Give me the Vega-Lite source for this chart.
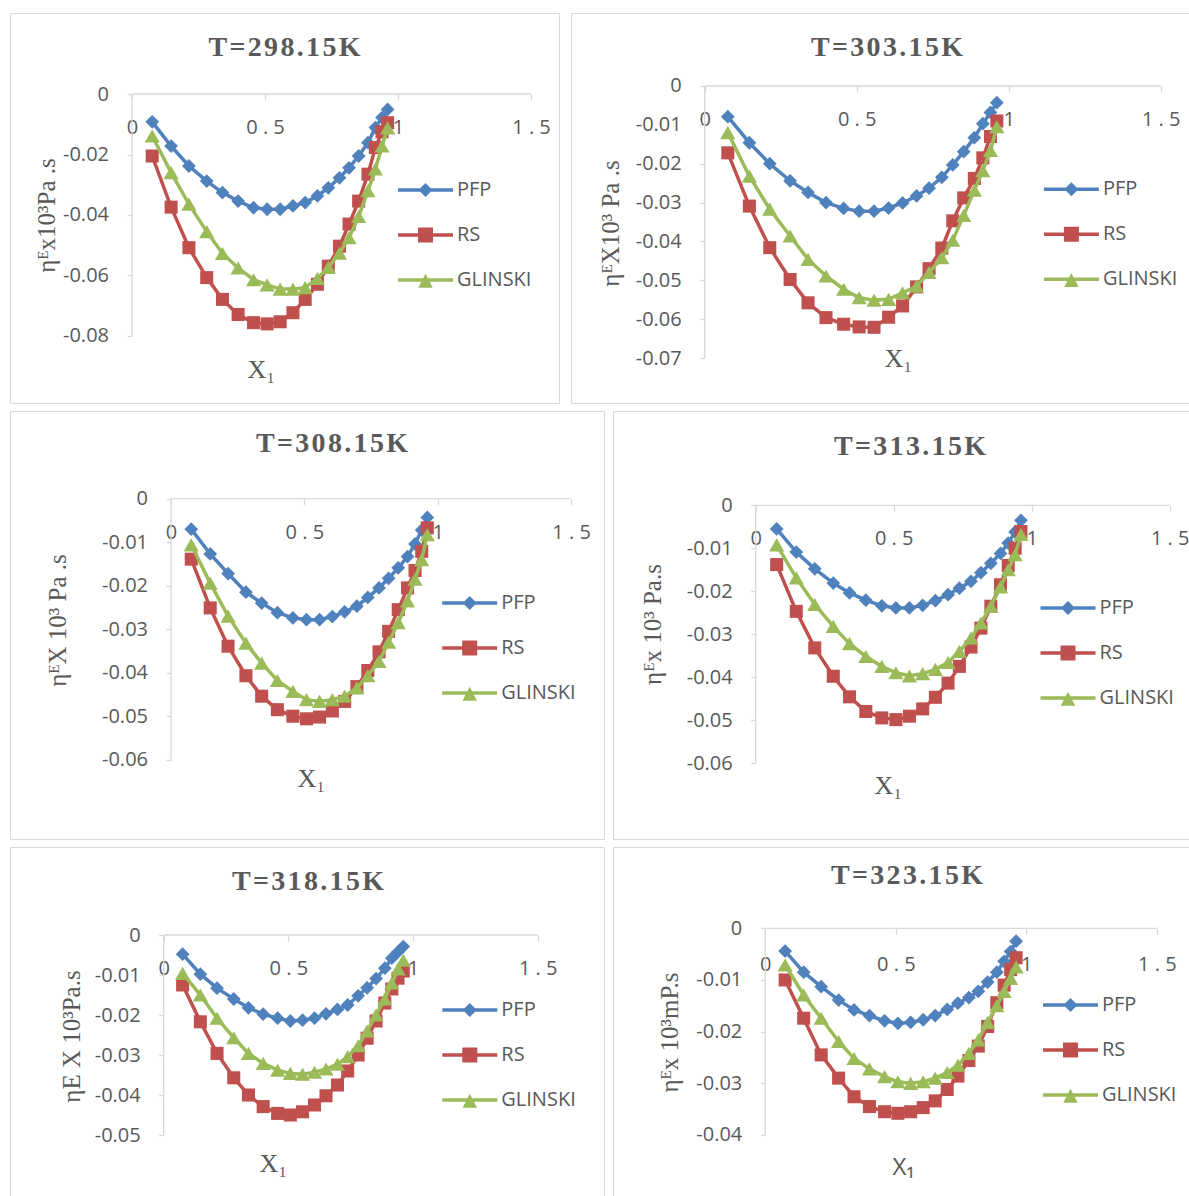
{
"$schema": "https://vega.github.io/schema/vega-lite/v6.json",
"padding": {"left": 9, "top": 12, "right": 0, "bottom": 0},
"background": "white",
"data": {"values": [
{"p":1,"s":"PFP","x":0.076,"y":-0.0092},{"p":1,"s":"PFP","x":0.147,"y":-0.0172},{"p":1,"s":"PFP","x":0.214,"y":-0.0238},{"p":1,"s":"PFP","x":0.281,"y":-0.0288},{"p":1,"s":"PFP","x":0.34,"y":-0.0326},{"p":1,"s":"PFP","x":0.399,"y":-0.0354},{"p":1,"s":"PFP","x":0.457,"y":-0.0376},{"p":1,"s":"PFP","x":0.508,"y":-0.0381},{"p":1,"s":"PFP","x":0.557,"y":-0.0381},{"p":1,"s":"PFP","x":0.605,"y":-0.037},{"p":1,"s":"PFP","x":0.651,"y":-0.0359},{"p":1,"s":"PFP","x":0.697,"y":-0.0337},{"p":1,"s":"PFP","x":0.738,"y":-0.031},{"p":1,"s":"PFP","x":0.78,"y":-0.0277},{"p":1,"s":"PFP","x":0.816,"y":-0.0244},{"p":1,"s":"PFP","x":0.852,"y":-0.0205},{"p":1,"s":"PFP","x":0.887,"y":-0.0161},{"p":1,"s":"PFP","x":0.915,"y":-0.0111},{"p":1,"s":"PFP","x":0.94,"y":-0.0078},{"p":1,"s":"PFP","x":0.961,"y":-0.0051},
{"p":1,"s":"RS","x":0.076,"y":-0.0205},{"p":1,"s":"RS","x":0.147,"y":-0.0374},{"p":1,"s":"RS","x":0.214,"y":-0.0508},{"p":1,"s":"RS","x":0.281,"y":-0.0607},{"p":1,"s":"RS","x":0.34,"y":-0.0679},{"p":1,"s":"RS","x":0.399,"y":-0.0729},{"p":1,"s":"RS","x":0.457,"y":-0.0756},{"p":1,"s":"RS","x":0.508,"y":-0.076},{"p":1,"s":"RS","x":0.557,"y":-0.0753},{"p":1,"s":"RS","x":0.605,"y":-0.0723},{"p":1,"s":"RS","x":0.651,"y":-0.0679},{"p":1,"s":"RS","x":0.697,"y":-0.0629},{"p":1,"s":"RS","x":0.738,"y":-0.0569},{"p":1,"s":"RS","x":0.78,"y":-0.0503},{"p":1,"s":"RS","x":0.816,"y":-0.043},{"p":1,"s":"RS","x":0.852,"y":-0.0354},{"p":1,"s":"RS","x":0.887,"y":-0.0265},{"p":1,"s":"RS","x":0.915,"y":-0.0177},{"p":1,"s":"RS","x":0.94,"y":-0.0125},{"p":1,"s":"RS","x":0.961,"y":-0.0095},
{"p":1,"s":"GLINSKI","x":0.076,"y":-0.0139},{"p":1,"s":"GLINSKI","x":0.147,"y":-0.026},{"p":1,"s":"GLINSKI","x":0.214,"y":-0.0364},{"p":1,"s":"GLINSKI","x":0.281,"y":-0.0455},{"p":1,"s":"GLINSKI","x":0.34,"y":-0.0527},{"p":1,"s":"GLINSKI","x":0.399,"y":-0.0575},{"p":1,"s":"GLINSKI","x":0.457,"y":-0.0614},{"p":1,"s":"GLINSKI","x":0.508,"y":-0.0631},{"p":1,"s":"GLINSKI","x":0.557,"y":-0.0645},{"p":1,"s":"GLINSKI","x":0.605,"y":-0.0645},{"p":1,"s":"GLINSKI","x":0.651,"y":-0.064},{"p":1,"s":"GLINSKI","x":0.697,"y":-0.061},{"p":1,"s":"GLINSKI","x":0.738,"y":-0.0573},{"p":1,"s":"GLINSKI","x":0.78,"y":-0.0526},{"p":1,"s":"GLINSKI","x":0.816,"y":-0.0475},{"p":1,"s":"GLINSKI","x":0.852,"y":-0.0405},{"p":1,"s":"GLINSKI","x":0.887,"y":-0.032},{"p":1,"s":"GLINSKI","x":0.915,"y":-0.0248},{"p":1,"s":"GLINSKI","x":0.94,"y":-0.0172},{"p":1,"s":"GLINSKI","x":0.961,"y":-0.0112},
{"p":2,"s":"PFP","x":0.076,"y":-0.0079},{"p":2,"s":"PFP","x":0.147,"y":-0.0146},{"p":2,"s":"PFP","x":0.214,"y":-0.02},{"p":2,"s":"PFP","x":0.281,"y":-0.0244},{"p":2,"s":"PFP","x":0.34,"y":-0.0274},{"p":2,"s":"PFP","x":0.399,"y":-0.03},{"p":2,"s":"PFP","x":0.457,"y":-0.0315},{"p":2,"s":"PFP","x":0.508,"y":-0.0322},{"p":2,"s":"PFP","x":0.557,"y":-0.0322},{"p":2,"s":"PFP","x":0.605,"y":-0.0314},{"p":2,"s":"PFP","x":0.651,"y":-0.0301},{"p":2,"s":"PFP","x":0.697,"y":-0.0283},{"p":2,"s":"PFP","x":0.738,"y":-0.0263},{"p":2,"s":"PFP","x":0.78,"y":-0.0235},{"p":2,"s":"PFP","x":0.816,"y":-0.0203},{"p":2,"s":"PFP","x":0.852,"y":-0.0169},{"p":2,"s":"PFP","x":0.887,"y":-0.0133},{"p":2,"s":"PFP","x":0.915,"y":-0.0097},{"p":2,"s":"PFP","x":0.94,"y":-0.0068},{"p":2,"s":"PFP","x":0.961,"y":-0.0043},
{"p":2,"s":"RS","x":0.076,"y":-0.0172},{"p":2,"s":"RS","x":0.147,"y":-0.0309},{"p":2,"s":"RS","x":0.214,"y":-0.0416},{"p":2,"s":"RS","x":0.281,"y":-0.0498},{"p":2,"s":"RS","x":0.34,"y":-0.0558},{"p":2,"s":"RS","x":0.399,"y":-0.0596},{"p":2,"s":"RS","x":0.457,"y":-0.0613},{"p":2,"s":"RS","x":0.508,"y":-0.062},{"p":2,"s":"RS","x":0.557,"y":-0.0621},{"p":2,"s":"RS","x":0.605,"y":-0.0595},{"p":2,"s":"RS","x":0.651,"y":-0.0566},{"p":2,"s":"RS","x":0.697,"y":-0.0517},{"p":2,"s":"RS","x":0.738,"y":-0.047},{"p":2,"s":"RS","x":0.78,"y":-0.0417},{"p":2,"s":"RS","x":0.816,"y":-0.0347},{"p":2,"s":"RS","x":0.852,"y":-0.0288},{"p":2,"s":"RS","x":0.887,"y":-0.0238},{"p":2,"s":"RS","x":0.915,"y":-0.0185},{"p":2,"s":"RS","x":0.94,"y":-0.013},{"p":2,"s":"RS","x":0.961,"y":-0.009},
{"p":2,"s":"GLINSKI","x":0.076,"y":-0.012},{"p":2,"s":"GLINSKI","x":0.147,"y":-0.0232},{"p":2,"s":"GLINSKI","x":0.214,"y":-0.0317},{"p":2,"s":"GLINSKI","x":0.281,"y":-0.0386},{"p":2,"s":"GLINSKI","x":0.34,"y":-0.0446},{"p":2,"s":"GLINSKI","x":0.399,"y":-0.0489},{"p":2,"s":"GLINSKI","x":0.457,"y":-0.0523},{"p":2,"s":"GLINSKI","x":0.508,"y":-0.0545},{"p":2,"s":"GLINSKI","x":0.557,"y":-0.0551},{"p":2,"s":"GLINSKI","x":0.605,"y":-0.0549},{"p":2,"s":"GLINSKI","x":0.651,"y":-0.0532},{"p":2,"s":"GLINSKI","x":0.697,"y":-0.0515},{"p":2,"s":"GLINSKI","x":0.738,"y":-0.048},{"p":2,"s":"GLINSKI","x":0.78,"y":-0.0442},{"p":2,"s":"GLINSKI","x":0.816,"y":-0.0397},{"p":2,"s":"GLINSKI","x":0.852,"y":-0.0333},{"p":2,"s":"GLINSKI","x":0.887,"y":-0.0268},{"p":2,"s":"GLINSKI","x":0.915,"y":-0.0218},{"p":2,"s":"GLINSKI","x":0.94,"y":-0.0166},{"p":2,"s":"GLINSKI","x":0.961,"y":-0.0105},
{"p":3,"s":"PFP","x":0.076,"y":-0.007},{"p":3,"s":"PFP","x":0.147,"y":-0.0127},{"p":3,"s":"PFP","x":0.214,"y":-0.0172},{"p":3,"s":"PFP","x":0.281,"y":-0.0215},{"p":3,"s":"PFP","x":0.34,"y":-0.024},{"p":3,"s":"PFP","x":0.399,"y":-0.0262},{"p":3,"s":"PFP","x":0.457,"y":-0.0274},{"p":3,"s":"PFP","x":0.508,"y":-0.0278},{"p":3,"s":"PFP","x":0.557,"y":-0.0278},{"p":3,"s":"PFP","x":0.605,"y":-0.0271},{"p":3,"s":"PFP","x":0.651,"y":-0.026},{"p":3,"s":"PFP","x":0.697,"y":-0.0247},{"p":3,"s":"PFP","x":0.738,"y":-0.0227},{"p":3,"s":"PFP","x":0.78,"y":-0.0205},{"p":3,"s":"PFP","x":0.816,"y":-0.0183},{"p":3,"s":"PFP","x":0.852,"y":-0.0159},{"p":3,"s":"PFP","x":0.887,"y":-0.0133},{"p":3,"s":"PFP","x":0.915,"y":-0.0104},{"p":3,"s":"PFP","x":0.94,"y":-0.0072},{"p":3,"s":"PFP","x":0.961,"y":-0.0043},
{"p":3,"s":"RS","x":0.076,"y":-0.0139},{"p":3,"s":"RS","x":0.147,"y":-0.0251},{"p":3,"s":"RS","x":0.214,"y":-0.0339},{"p":3,"s":"RS","x":0.281,"y":-0.0407},{"p":3,"s":"RS","x":0.34,"y":-0.0454},{"p":3,"s":"RS","x":0.399,"y":-0.0485},{"p":3,"s":"RS","x":0.457,"y":-0.05},{"p":3,"s":"RS","x":0.508,"y":-0.0506},{"p":3,"s":"RS","x":0.557,"y":-0.0502},{"p":3,"s":"RS","x":0.605,"y":-0.0488},{"p":3,"s":"RS","x":0.651,"y":-0.0466},{"p":3,"s":"RS","x":0.697,"y":-0.0432},{"p":3,"s":"RS","x":0.738,"y":-0.0395},{"p":3,"s":"RS","x":0.78,"y":-0.0352},{"p":3,"s":"RS","x":0.816,"y":-0.0305},{"p":3,"s":"RS","x":0.852,"y":-0.0255},{"p":3,"s":"RS","x":0.887,"y":-0.0205},{"p":3,"s":"RS","x":0.915,"y":-0.0165},{"p":3,"s":"RS","x":0.94,"y":-0.0121},{"p":3,"s":"RS","x":0.961,"y":-0.0067},
{"p":3,"s":"GLINSKI","x":0.076,"y":-0.0106},{"p":3,"s":"GLINSKI","x":0.147,"y":-0.0194},{"p":3,"s":"GLINSKI","x":0.214,"y":-0.027},{"p":3,"s":"GLINSKI","x":0.281,"y":-0.0332},{"p":3,"s":"GLINSKI","x":0.34,"y":-0.0378},{"p":3,"s":"GLINSKI","x":0.399,"y":-0.0418},{"p":3,"s":"GLINSKI","x":0.457,"y":-0.0443},{"p":3,"s":"GLINSKI","x":0.508,"y":-0.0462},{"p":3,"s":"GLINSKI","x":0.557,"y":-0.0466},{"p":3,"s":"GLINSKI","x":0.605,"y":-0.0462},{"p":3,"s":"GLINSKI","x":0.651,"y":-0.0454},{"p":3,"s":"GLINSKI","x":0.697,"y":-0.0435},{"p":3,"s":"GLINSKI","x":0.738,"y":-0.0407},{"p":3,"s":"GLINSKI","x":0.78,"y":-0.0374},{"p":3,"s":"GLINSKI","x":0.816,"y":-0.033},{"p":3,"s":"GLINSKI","x":0.852,"y":-0.0285},{"p":3,"s":"GLINSKI","x":0.887,"y":-0.0235},{"p":3,"s":"GLINSKI","x":0.915,"y":-0.0185},{"p":3,"s":"GLINSKI","x":0.94,"y":-0.014},{"p":3,"s":"GLINSKI","x":0.961,"y":-0.0083},
{"p":4,"s":"PFP","x":0.076,"y":-0.0055},{"p":4,"s":"PFP","x":0.147,"y":-0.0109},{"p":4,"s":"PFP","x":0.214,"y":-0.0148},{"p":4,"s":"PFP","x":0.281,"y":-0.0181},{"p":4,"s":"PFP","x":0.34,"y":-0.0204},{"p":4,"s":"PFP","x":0.399,"y":-0.0221},{"p":4,"s":"PFP","x":0.457,"y":-0.0234},{"p":4,"s":"PFP","x":0.508,"y":-0.0239},{"p":4,"s":"PFP","x":0.557,"y":-0.0239},{"p":4,"s":"PFP","x":0.605,"y":-0.0233},{"p":4,"s":"PFP","x":0.651,"y":-0.0222},{"p":4,"s":"PFP","x":0.697,"y":-0.0208},{"p":4,"s":"PFP","x":0.738,"y":-0.0193},{"p":4,"s":"PFP","x":0.78,"y":-0.0177},{"p":4,"s":"PFP","x":0.816,"y":-0.0157},{"p":4,"s":"PFP","x":0.852,"y":-0.0135},{"p":4,"s":"PFP","x":0.887,"y":-0.0112},{"p":4,"s":"PFP","x":0.915,"y":-0.0088},{"p":4,"s":"PFP","x":0.94,"y":-0.0062},{"p":4,"s":"PFP","x":0.961,"y":-0.0035},
{"p":4,"s":"RS","x":0.076,"y":-0.0138},{"p":4,"s":"RS","x":0.147,"y":-0.0247},{"p":4,"s":"RS","x":0.214,"y":-0.0332},{"p":4,"s":"RS","x":0.281,"y":-0.0398},{"p":4,"s":"RS","x":0.34,"y":-0.0446},{"p":4,"s":"RS","x":0.399,"y":-0.048},{"p":4,"s":"RS","x":0.457,"y":-0.0495},{"p":4,"s":"RS","x":0.508,"y":-0.0499},{"p":4,"s":"RS","x":0.557,"y":-0.0491},{"p":4,"s":"RS","x":0.605,"y":-0.0474},{"p":4,"s":"RS","x":0.651,"y":-0.0447},{"p":4,"s":"RS","x":0.697,"y":-0.0414},{"p":4,"s":"RS","x":0.738,"y":-0.0375},{"p":4,"s":"RS","x":0.78,"y":-0.033},{"p":4,"s":"RS","x":0.816,"y":-0.0286},{"p":4,"s":"RS","x":0.852,"y":-0.0235},{"p":4,"s":"RS","x":0.887,"y":-0.0185},{"p":4,"s":"RS","x":0.915,"y":-0.014},{"p":4,"s":"RS","x":0.94,"y":-0.01},{"p":4,"s":"RS","x":0.961,"y":-0.0061},
{"p":4,"s":"GLINSKI","x":0.076,"y":-0.0092},{"p":4,"s":"GLINSKI","x":0.147,"y":-0.0169},{"p":4,"s":"GLINSKI","x":0.214,"y":-0.0231},{"p":4,"s":"GLINSKI","x":0.281,"y":-0.0282},{"p":4,"s":"GLINSKI","x":0.34,"y":-0.0322},{"p":4,"s":"GLINSKI","x":0.399,"y":-0.0352},{"p":4,"s":"GLINSKI","x":0.457,"y":-0.0375},{"p":4,"s":"GLINSKI","x":0.508,"y":-0.039},{"p":4,"s":"GLINSKI","x":0.557,"y":-0.0397},{"p":4,"s":"GLINSKI","x":0.605,"y":-0.0392},{"p":4,"s":"GLINSKI","x":0.651,"y":-0.0382},{"p":4,"s":"GLINSKI","x":0.697,"y":-0.0366},{"p":4,"s":"GLINSKI","x":0.738,"y":-0.034},{"p":4,"s":"GLINSKI","x":0.78,"y":-0.0309},{"p":4,"s":"GLINSKI","x":0.816,"y":-0.0274},{"p":4,"s":"GLINSKI","x":0.852,"y":-0.0235},{"p":4,"s":"GLINSKI","x":0.887,"y":-0.019},{"p":4,"s":"GLINSKI","x":0.915,"y":-0.015},{"p":4,"s":"GLINSKI","x":0.94,"y":-0.0115},{"p":4,"s":"GLINSKI","x":0.961,"y":-0.0068},
{"p":5,"s":"PFP","x":0.076,"y":-0.0048},{"p":5,"s":"PFP","x":0.147,"y":-0.0098},{"p":5,"s":"PFP","x":0.214,"y":-0.0133},{"p":5,"s":"PFP","x":0.281,"y":-0.016},{"p":5,"s":"PFP","x":0.34,"y":-0.0182},{"p":5,"s":"PFP","x":0.399,"y":-0.0198},{"p":5,"s":"PFP","x":0.457,"y":-0.0208},{"p":5,"s":"PFP","x":0.508,"y":-0.0215},{"p":5,"s":"PFP","x":0.557,"y":-0.0213},{"p":5,"s":"PFP","x":0.605,"y":-0.0208},{"p":5,"s":"PFP","x":0.651,"y":-0.0197},{"p":5,"s":"PFP","x":0.697,"y":-0.0186},{"p":5,"s":"PFP","x":0.738,"y":-0.0175},{"p":5,"s":"PFP","x":0.78,"y":-0.0152},{"p":5,"s":"PFP","x":0.816,"y":-0.0132},{"p":5,"s":"PFP","x":0.852,"y":-0.0109},{"p":5,"s":"PFP","x":0.887,"y":-0.0083},{"p":5,"s":"PFP","x":0.915,"y":-0.0058},{"p":5,"s":"PFP","x":0.94,"y":-0.0042},{"p":5,"s":"PFP","x":0.961,"y":-0.0029},
{"p":5,"s":"RS","x":0.076,"y":-0.0125},{"p":5,"s":"RS","x":0.147,"y":-0.0217},{"p":5,"s":"RS","x":0.214,"y":-0.0296},{"p":5,"s":"RS","x":0.281,"y":-0.0357},{"p":5,"s":"RS","x":0.34,"y":-0.04},{"p":5,"s":"RS","x":0.399,"y":-0.0429},{"p":5,"s":"RS","x":0.457,"y":-0.0446},{"p":5,"s":"RS","x":0.508,"y":-0.045},{"p":5,"s":"RS","x":0.557,"y":-0.0442},{"p":5,"s":"RS","x":0.605,"y":-0.0425},{"p":5,"s":"RS","x":0.651,"y":-0.0402},{"p":5,"s":"RS","x":0.697,"y":-0.0375},{"p":5,"s":"RS","x":0.738,"y":-0.034},{"p":5,"s":"RS","x":0.78,"y":-0.03},{"p":5,"s":"RS","x":0.816,"y":-0.0258},{"p":5,"s":"RS","x":0.852,"y":-0.0215},{"p":5,"s":"RS","x":0.887,"y":-0.017},{"p":5,"s":"RS","x":0.915,"y":-0.0135},{"p":5,"s":"RS","x":0.94,"y":-0.0108},{"p":5,"s":"RS","x":0.961,"y":-0.009},
{"p":5,"s":"GLINSKI","x":0.076,"y":-0.0096},{"p":5,"s":"GLINSKI","x":0.147,"y":-0.015},{"p":5,"s":"GLINSKI","x":0.214,"y":-0.0208},{"p":5,"s":"GLINSKI","x":0.281,"y":-0.0257},{"p":5,"s":"GLINSKI","x":0.34,"y":-0.0296},{"p":5,"s":"GLINSKI","x":0.399,"y":-0.0321},{"p":5,"s":"GLINSKI","x":0.457,"y":-0.0338},{"p":5,"s":"GLINSKI","x":0.508,"y":-0.0346},{"p":5,"s":"GLINSKI","x":0.557,"y":-0.0348},{"p":5,"s":"GLINSKI","x":0.605,"y":-0.0343},{"p":5,"s":"GLINSKI","x":0.651,"y":-0.0335},{"p":5,"s":"GLINSKI","x":0.697,"y":-0.0323},{"p":5,"s":"GLINSKI","x":0.738,"y":-0.0304},{"p":5,"s":"GLINSKI","x":0.78,"y":-0.0277},{"p":5,"s":"GLINSKI","x":0.816,"y":-0.024},{"p":5,"s":"GLINSKI","x":0.852,"y":-0.02},{"p":5,"s":"GLINSKI","x":0.887,"y":-0.016},{"p":5,"s":"GLINSKI","x":0.915,"y":-0.012},{"p":5,"s":"GLINSKI","x":0.94,"y":-0.0085},{"p":5,"s":"GLINSKI","x":0.961,"y":-0.0063},
{"p":6,"s":"PFP","x":0.076,"y":-0.0044},{"p":6,"s":"PFP","x":0.147,"y":-0.0085},{"p":6,"s":"PFP","x":0.214,"y":-0.0113},{"p":6,"s":"PFP","x":0.281,"y":-0.0139},{"p":6,"s":"PFP","x":0.34,"y":-0.0158},{"p":6,"s":"PFP","x":0.399,"y":-0.0169},{"p":6,"s":"PFP","x":0.457,"y":-0.0179},{"p":6,"s":"PFP","x":0.508,"y":-0.0184},{"p":6,"s":"PFP","x":0.557,"y":-0.0182},{"p":6,"s":"PFP","x":0.605,"y":-0.0177},{"p":6,"s":"PFP","x":0.651,"y":-0.0169},{"p":6,"s":"PFP","x":0.697,"y":-0.0157},{"p":6,"s":"PFP","x":0.738,"y":-0.0145},{"p":6,"s":"PFP","x":0.78,"y":-0.0134},{"p":6,"s":"PFP","x":0.816,"y":-0.0122},{"p":6,"s":"PFP","x":0.852,"y":-0.0104},{"p":6,"s":"PFP","x":0.887,"y":-0.0085},{"p":6,"s":"PFP","x":0.915,"y":-0.0064},{"p":6,"s":"PFP","x":0.94,"y":-0.0045},{"p":6,"s":"PFP","x":0.961,"y":-0.0025},
{"p":6,"s":"RS","x":0.076,"y":-0.01},{"p":6,"s":"RS","x":0.147,"y":-0.0174},{"p":6,"s":"RS","x":0.214,"y":-0.0245},{"p":6,"s":"RS","x":0.281,"y":-0.029},{"p":6,"s":"RS","x":0.34,"y":-0.0326},{"p":6,"s":"RS","x":0.399,"y":-0.0345},{"p":6,"s":"RS","x":0.457,"y":-0.0355},{"p":6,"s":"RS","x":0.508,"y":-0.0358},{"p":6,"s":"RS","x":0.557,"y":-0.0355},{"p":6,"s":"RS","x":0.605,"y":-0.0347},{"p":6,"s":"RS","x":0.651,"y":-0.0334},{"p":6,"s":"RS","x":0.697,"y":-0.0312},{"p":6,"s":"RS","x":0.738,"y":-0.0286},{"p":6,"s":"RS","x":0.78,"y":-0.0256},{"p":6,"s":"RS","x":0.816,"y":-0.0228},{"p":6,"s":"RS","x":0.852,"y":-0.019},{"p":6,"s":"RS","x":0.887,"y":-0.0144},{"p":6,"s":"RS","x":0.915,"y":-0.011},{"p":6,"s":"RS","x":0.94,"y":-0.008},{"p":6,"s":"RS","x":0.961,"y":-0.0057},
{"p":6,"s":"GLINSKI","x":0.076,"y":-0.0071},{"p":6,"s":"GLINSKI","x":0.147,"y":-0.0129},{"p":6,"s":"GLINSKI","x":0.214,"y":-0.0174},{"p":6,"s":"GLINSKI","x":0.281,"y":-0.0219},{"p":6,"s":"GLINSKI","x":0.34,"y":-0.0252},{"p":6,"s":"GLINSKI","x":0.399,"y":-0.0272},{"p":6,"s":"GLINSKI","x":0.457,"y":-0.0287},{"p":6,"s":"GLINSKI","x":0.508,"y":-0.0297},{"p":6,"s":"GLINSKI","x":0.557,"y":-0.03},{"p":6,"s":"GLINSKI","x":0.605,"y":-0.0297},{"p":6,"s":"GLINSKI","x":0.651,"y":-0.029},{"p":6,"s":"GLINSKI","x":0.697,"y":-0.0279},{"p":6,"s":"GLINSKI","x":0.738,"y":-0.0265},{"p":6,"s":"GLINSKI","x":0.78,"y":-0.0242},{"p":6,"s":"GLINSKI","x":0.816,"y":-0.0216},{"p":6,"s":"GLINSKI","x":0.852,"y":-0.0182},{"p":6,"s":"GLINSKI","x":0.887,"y":-0.015},{"p":6,"s":"GLINSKI","x":0.915,"y":-0.0122},{"p":6,"s":"GLINSKI","x":0.94,"y":-0.0097},{"p":6,"s":"GLINSKI","x":0.961,"y":-0.0075}
]},
"config": {
  "view": {"stroke": "#d9d9d9", "strokeWidth": 1},
  "axis": {"labelFont": "Open Sans", "labelFontSize": 20, "labelColor": "#595959", "tickColor": "#d9d9d9", "tickWidth": 1.3, "domain": false, "grid": false, "labelFlush": false, "labelOverlap": false, "labelBound": false, "titleFont": "Liberation Serif", "titleFontWeight": "normal", "titleFontSize": 25, "titleColor": "#595959", "titleAlign": "center", "titleBaseline": "middle"},
  "axisX": {"tickSize": 6, "labelPadding": 17.5, "labelBaseline": "top", "titleFontSize": 26, "titleAngle": 0},
  "axisY": {"tickSize": 5, "labelPadding": 18.5, "titleAngle": -90},
  "legend": {"orient": "none", "symbolSize": 900, "symbolStrokeWidth": 0, "labelOffset": 16.5, "rowPadding": 20, "padding": 0, "labelFont": "Open Sans", "labelFontSize": 20, "labelColor": "#595959", "symbolOpacity": 1},
  "title": {"font": "Liberation Serif", "fontSize": 28, "fontWeight": "bold", "color": "#595959", "anchor": "middle", "frame": "group"},
  "line": {"strokeWidth": 3.5},
  "point": {"filled": true, "opacity": 1, "strokeWidth": 0}
},
"spacing": 6,
"resolve": {"scale": {"color": "independent", "shape": "independent", "x": "independent", "y": "independent"}, "legend": {"color": "independent", "shape": "independent"}},
"vconcat": [
{"hconcat": [
 {"width": 549, "height": 390,
  "title": {"text": "T\u200a=\u200a2\u200a9\u200a8\u200a.\u200a1\u200a5\u200aK", "offset": -49, "dx": 0},
  "layer": [
   {"data": {"values": [{}]}, "mark": {"type": "rule", "color": "#d9d9d9", "strokeWidth": 1.3}, "encoding": {"x": {"datum": 0, "type": "quantitative"}, "y": {"datum": 0, "type": "quantitative"}, "y2": {"datum": -0.08}}},
   {"data": {"values": [{}]}, "mark": {"type": "rule", "color": "#d9d9d9", "strokeWidth": 1.3}, "encoding": {"x": {"datum": 0, "type": "quantitative"}, "x2": {"datum": 1.5}, "y": {"datum": 0, "type": "quantitative"}}},
   {"transform": [{"filter": "datum.p == 1 && datum.s == 'PFP'"}], "mark": {"type": "line", "color": "#4F81BD"},
    "encoding": {
     "x": {"field": "x", "type": "quantitative", "scale": {"domain": [-0.45865, 1.60526], "nice": false, "zero": false}, "axis": {"orient": "bottom", "offset": -309, "values": [0, 0.5, 1, 1.5], "labelExpr": "datum.value == 0 ? '0' : datum.value == 1 ? '1' : datum.value == 0.5 ? '0 . 5' : '1 . 5'", "title": "X₁", "titleX": 251, "titleY": 275}},
     "y": {"field": "y", "type": "quantitative", "scale": {"domain": [-0.102149, 0.026777], "nice": false, "zero": false}, "axis": {"orient": "left", "offset": -122, "values": [0, -0.02, -0.04, -0.06, -0.08], "labelExpr": "datum.value == 0 ? '0' : '-0.0' + round(-datum.value * 100)", "title": "ηᴱx10³Pa .s", "titleX": -86, "titleY": 202}}}},
   {"transform": [{"filter": "datum.p == 1 && datum.s == 'PFP'"}], "mark": {"type": "point", "shape": "diamond", "color": "#4F81BD", "size": 190}, "encoding": {"x": {"field": "x", "type": "quantitative"}, "y": {"field": "y", "type": "quantitative"}}},
   {"transform": [{"filter": "datum.p == 1 && datum.s == 'RS'"}], "mark": {"type": "line", "color": "#C0504D"}, "encoding": {"x": {"field": "x", "type": "quantitative"}, "y": {"field": "y", "type": "quantitative"}}},
   {"transform": [{"filter": "datum.p == 1 && datum.s == 'RS'"}], "mark": {"type": "point", "shape": "square", "color": "#C0504D", "size": 170}, "encoding": {"x": {"field": "x", "type": "quantitative"}, "y": {"field": "y", "type": "quantitative"}}},
   {"transform": [{"filter": "datum.p == 1 && datum.s == 'GLINSKI'"}], "mark": {"type": "line", "color": "#9BBB59"}, "encoding": {"x": {"field": "x", "type": "quantitative"}, "y": {"field": "y", "type": "quantitative"}}},
   {"transform": [{"filter": "datum.p == 1 && datum.s == 'GLINSKI'"}], "mark": {"type": "point", "shape": "triangle-up", "color": "#9BBB59", "size": 230}, "encoding": {"x": {"field": "x", "type": "quantitative"}, "y": {"field": "y", "type": "quantitative"}}},
   {"transform": [{"filter": "datum.p == 1"}], "mark": {"type": "point", "opacity": 0, "size": 900},
    "encoding": {
     "x": {"field": "x", "type": "quantitative"}, "y": {"field": "y", "type": "quantitative"},
     "color": {"field": "s", "type": "nominal", "scale": {"domain": ["PFP", "RS", "GLINSKI"], "range": ["#4F81BD", "#C0504D", "#9BBB59"]}, "legend": {"title": null, "legendX": 400.5, "legendY": 162}},
     "shape": {"field": "s", "type": "nominal", "scale": {"domain": ["PFP", "RS", "GLINSKI"], "range": ["M-1.833,-0.12H1.833V0.12H-1.833Z M0,-0.47L0.47,0L0,0.47L-0.47,0Z", "M-1.833,-0.12H1.833V0.12H-1.833Z M-0.5,-0.5H0.5V0.5H-0.5Z", "M-1.833,-0.12H1.833V0.12H-1.833Z M0,-0.42L0.48,0.52H-0.48Z"]}, "legend": {"title": null, "legendX": 400.5, "legendY": 162}}}}
  ]},
 {"width": 620, "height": 390,
  "title": {"text": "T\u200a=\u200a3\u200a0\u200a3\u200a.\u200a1\u200a5\u200aK", "offset": -49, "dx": 6},
  "layer": [
   {"data": {"values": [{}]}, "mark": {"type": "rule", "color": "#d9d9d9", "strokeWidth": 1.3}, "encoding": {"x": {"datum": 0, "type": "quantitative"}, "y": {"datum": 0, "type": "quantitative"}, "y2": {"datum": -0.07}}},
   {"data": {"values": [{}]}, "mark": {"type": "rule", "color": "#d9d9d9", "strokeWidth": 1.3}, "encoding": {"x": {"datum": 0, "type": "quantitative"}, "x2": {"datum": 1.5}, "y": {"datum": 0, "type": "quantitative"}}},
   {"transform": [{"filter": "datum.p == 2 && datum.s == 'PFP'"}], "mark": {"type": "line", "color": "#4F81BD"},
    "encoding": {
     "x": {"field": "x", "type": "quantitative", "scale": {"domain": [-0.4398, 1.59967], "nice": false, "zero": false}, "axis": {"orient": "bottom", "offset": -317, "values": [0, 0.5, 1, 1.5], "labelExpr": "datum.value == 0 ? '0' : datum.value == 1 ? '1' : datum.value == 0.5 ? '0 . 5' : '1 . 5'", "title": "X₁", "titleX": 327, "titleY": 272}},
     "y": {"field": "y", "type": "quantitative", "scale": {"domain": [-0.081575, 0.018785], "nice": false, "zero": false}, "axis": {"orient": "left", "offset": -133.7, "values": [0, -0.01, -0.02, -0.03, -0.04, -0.05, -0.06, -0.07], "labelExpr": "datum.value == 0 ? '0' : '-0.0' + round(-datum.value * 100)", "title": "ηᴱX10³ Pa .s", "titleX": -94.7, "titleY": 210}}}},
   {"transform": [{"filter": "datum.p == 2 && datum.s == 'PFP'"}], "mark": {"type": "point", "shape": "diamond", "color": "#4F81BD", "size": 190}, "encoding": {"x": {"field": "x", "type": "quantitative"}, "y": {"field": "y", "type": "quantitative"}}},
   {"transform": [{"filter": "datum.p == 2 && datum.s == 'RS'"}], "mark": {"type": "line", "color": "#C0504D"}, "encoding": {"x": {"field": "x", "type": "quantitative"}, "y": {"field": "y", "type": "quantitative"}}},
   {"transform": [{"filter": "datum.p == 2 && datum.s == 'RS'"}], "mark": {"type": "point", "shape": "square", "color": "#C0504D", "size": 170}, "encoding": {"x": {"field": "x", "type": "quantitative"}, "y": {"field": "y", "type": "quantitative"}}},
   {"transform": [{"filter": "datum.p == 2 && datum.s == 'GLINSKI'"}], "mark": {"type": "line", "color": "#9BBB59"}, "encoding": {"x": {"field": "x", "type": "quantitative"}, "y": {"field": "y", "type": "quantitative"}}},
   {"transform": [{"filter": "datum.p == 2 && datum.s == 'GLINSKI'"}], "mark": {"type": "point", "shape": "triangle-up", "color": "#9BBB59", "size": 230}, "encoding": {"x": {"field": "x", "type": "quantitative"}, "y": {"field": "y", "type": "quantitative"}}},
   {"transform": [{"filter": "datum.p == 2"}], "mark": {"type": "point", "opacity": 0, "size": 900},
    "encoding": {
     "x": {"field": "x", "type": "quantitative"}, "y": {"field": "y", "type": "quantitative"},
     "color": {"field": "s", "type": "nominal", "scale": {"domain": ["PFP", "RS", "GLINSKI"], "range": ["#4F81BD", "#C0504D", "#9BBB59"]}, "legend": {"title": null, "legendX": 485.4, "legendY": 161.3}},
     "shape": {"field": "s", "type": "nominal", "scale": {"domain": ["PFP", "RS", "GLINSKI"], "range": ["M-1.833,-0.12H1.833V0.12H-1.833Z M0,-0.47L0.47,0L0,0.47L-0.47,0Z", "M-1.833,-0.12H1.833V0.12H-1.833Z M-0.5,-0.5H0.5V0.5H-0.5Z", "M-1.833,-0.12H1.833V0.12H-1.833Z M0,-0.42L0.48,0.52H-0.48Z"]}, "legend": {"title": null, "legendX": 485.4, "legendY": 161.3}}}}
  ]}
 ], "spacing": 10,
 "resolve": {"scale": {"color": "independent", "shape": "independent", "x": "independent", "y": "independent"}, "legend": {"color": "independent", "shape": "independent"}}},
{"hconcat": [
 {"width": 594, "height": 428,
  "title": {"text": "T\u200a=\u200a3\u200a0\u200a8\u200a.\u200a1\u200a5\u200aK", "offset": -47, "dx": 25},
  "layer": [
   {"data": {"values": [{}]}, "mark": {"type": "rule", "color": "#d9d9d9", "strokeWidth": 1.3}, "encoding": {"x": {"datum": 0, "type": "quantitative"}, "y": {"datum": 0, "type": "quantitative"}, "y2": {"datum": -0.06}}},
   {"data": {"values": [{}]}, "mark": {"type": "rule", "color": "#d9d9d9", "strokeWidth": 1.3}, "encoding": {"x": {"datum": 0, "type": "quantitative"}, "x2": {"datum": 1.5}, "y": {"datum": 0, "type": "quantitative"}}},
   {"transform": [{"filter": "datum.p == 3 && datum.s == 'PFP'"}], "mark": {"type": "line", "color": "#4F81BD"},
    "encoding": {
     "x": {"field": "x", "type": "quantitative", "scale": {"domain": [-0.60367, 1.62355], "nice": false, "zero": false}, "axis": {"orient": "bottom", "offset": -340.3, "values": [0, 0.5, 1, 1.5], "labelExpr": "datum.value == 0 ? '0' : datum.value == 1 ? '1' : datum.value == 0.5 ? '0 . 5' : '1 . 5'", "title": "X₁", "titleX": 301, "titleY": 279.3}},
     "y": {"field": "y", "type": "quantitative", "scale": {"domain": [-0.07823, 0.020161], "nice": false, "zero": false}, "axis": {"orient": "left", "offset": -161, "values": [0, -0.01, -0.02, -0.03, -0.04, -0.05, -0.06], "labelExpr": "datum.value == 0 ? '0' : '-0.0' + round(-datum.value * 100)", "title": "ηᴱX 10³ Pa .s", "titleX": -114, "titleY": 209}}}},
   {"transform": [{"filter": "datum.p == 3 && datum.s == 'PFP'"}], "mark": {"type": "point", "shape": "diamond", "color": "#4F81BD", "size": 190}, "encoding": {"x": {"field": "x", "type": "quantitative"}, "y": {"field": "y", "type": "quantitative"}}},
   {"transform": [{"filter": "datum.p == 3 && datum.s == 'RS'"}], "mark": {"type": "line", "color": "#C0504D"}, "encoding": {"x": {"field": "x", "type": "quantitative"}, "y": {"field": "y", "type": "quantitative"}}},
   {"transform": [{"filter": "datum.p == 3 && datum.s == 'RS'"}], "mark": {"type": "point", "shape": "square", "color": "#C0504D", "size": 170}, "encoding": {"x": {"field": "x", "type": "quantitative"}, "y": {"field": "y", "type": "quantitative"}}},
   {"transform": [{"filter": "datum.p == 3 && datum.s == 'GLINSKI'"}], "mark": {"type": "line", "color": "#9BBB59"}, "encoding": {"x": {"field": "x", "type": "quantitative"}, "y": {"field": "y", "type": "quantitative"}}},
   {"transform": [{"filter": "datum.p == 3 && datum.s == 'GLINSKI'"}], "mark": {"type": "point", "shape": "triangle-up", "color": "#9BBB59", "size": 230}, "encoding": {"x": {"field": "x", "type": "quantitative"}, "y": {"field": "y", "type": "quantitative"}}},
   {"transform": [{"filter": "datum.p == 3"}], "mark": {"type": "point", "opacity": 0, "size": 900},
    "encoding": {
     "x": {"field": "x", "type": "quantitative"}, "y": {"field": "y", "type": "quantitative"},
     "color": {"field": "s", "type": "nominal", "scale": {"domain": ["PFP", "RS", "GLINSKI"], "range": ["#4F81BD", "#C0504D", "#9BBB59"]}, "legend": {"title": null, "legendX": 444.7, "legendY": 177}},
     "shape": {"field": "s", "type": "nominal", "scale": {"domain": ["PFP", "RS", "GLINSKI"], "range": ["M-1.833,-0.12H1.833V0.12H-1.833Z M0,-0.47L0.47,0L0,0.47L-0.47,0Z", "M-1.833,-0.12H1.833V0.12H-1.833Z M-0.5,-0.5H0.5V0.5H-0.5Z", "M-1.833,-0.12H1.833V0.12H-1.833Z M0,-0.42L0.48,0.52H-0.48Z"]}, "legend": {"title": null, "legendX": 444.7, "legendY": 177}}}}
  ]},
 {"width": 578, "height": 428,
  "title": {"text": "T\u200a=\u200a3\u200a1\u200a3\u200a.\u200a1\u200a5\u200aK", "offset": -50, "dx": 8},
  "layer": [
   {"data": {"values": [{}]}, "mark": {"type": "rule", "color": "#d9d9d9", "strokeWidth": 1.3}, "encoding": {"x": {"datum": 0, "type": "quantitative"}, "y": {"datum": 0, "type": "quantitative"}, "y2": {"datum": -0.06}}},
   {"data": {"values": [{}]}, "mark": {"type": "rule", "color": "#d9d9d9", "strokeWidth": 1.3}, "encoding": {"x": {"datum": 0, "type": "quantitative"}, "x2": {"datum": 1.5}, "y": {"datum": 0, "type": "quantitative"}}},
   {"transform": [{"filter": "datum.p == 4 && datum.s == 'PFP'"}], "mark": {"type": "line", "color": "#4F81BD"},
    "encoding": {
     "x": {"field": "x", "type": "quantitative", "scale": {"domain": [-0.51703, 1.57717], "nice": false, "zero": false}, "axis": {"orient": "bottom", "offset": -333.7, "values": [0, 0.5, 1, 1.5], "labelExpr": "datum.value == 0 ? '0' : datum.value == 1 ? '1' : datum.value == 0.5 ? '0 . 5' : '1 . 5'", "title": "X₁", "titleX": 275, "titleY": 279.7}},
     "y": {"field": "y", "type": "quantitative", "scale": {"domain": [-0.077695, 0.021956], "nice": false, "zero": false}, "axis": {"orient": "left", "offset": -142.7, "values": [0, -0.01, -0.02, -0.03, -0.04, -0.05, -0.06], "labelExpr": "datum.value == 0 ? '0' : '-0.0' + round(-datum.value * 100)", "title": "ηᴱx 10³ Pa.s", "titleX": -103.7, "titleY": 213}}}},
   {"transform": [{"filter": "datum.p == 4 && datum.s == 'PFP'"}], "mark": {"type": "point", "shape": "diamond", "color": "#4F81BD", "size": 190}, "encoding": {"x": {"field": "x", "type": "quantitative"}, "y": {"field": "y", "type": "quantitative"}}},
   {"transform": [{"filter": "datum.p == 4 && datum.s == 'RS'"}], "mark": {"type": "line", "color": "#C0504D"}, "encoding": {"x": {"field": "x", "type": "quantitative"}, "y": {"field": "y", "type": "quantitative"}}},
   {"transform": [{"filter": "datum.p == 4 && datum.s == 'RS'"}], "mark": {"type": "point", "shape": "square", "color": "#C0504D", "size": 170}, "encoding": {"x": {"field": "x", "type": "quantitative"}, "y": {"field": "y", "type": "quantitative"}}},
   {"transform": [{"filter": "datum.p == 4 && datum.s == 'GLINSKI'"}], "mark": {"type": "line", "color": "#9BBB59"}, "encoding": {"x": {"field": "x", "type": "quantitative"}, "y": {"field": "y", "type": "quantitative"}}},
   {"transform": [{"filter": "datum.p == 4 && datum.s == 'GLINSKI'"}], "mark": {"type": "point", "shape": "triangle-up", "color": "#9BBB59", "size": 230}, "encoding": {"x": {"field": "x", "type": "quantitative"}, "y": {"field": "y", "type": "quantitative"}}},
   {"transform": [{"filter": "datum.p == 4"}], "mark": {"type": "point", "opacity": 0, "size": 900},
    "encoding": {
     "x": {"field": "x", "type": "quantitative"}, "y": {"field": "y", "type": "quantitative"},
     "color": {"field": "s", "type": "nominal", "scale": {"domain": ["PFP", "RS", "GLINSKI"], "range": ["#4F81BD", "#C0504D", "#9BBB59"]}, "legend": {"title": null, "legendX": 440, "legendY": 182}},
     "shape": {"field": "s", "type": "nominal", "scale": {"domain": ["PFP", "RS", "GLINSKI"], "range": ["M-1.833,-0.12H1.833V0.12H-1.833Z M0,-0.47L0.47,0L0,0.47L-0.47,0Z", "M-1.833,-0.12H1.833V0.12H-1.833Z M-0.5,-0.5H0.5V0.5H-0.5Z", "M-1.833,-0.12H1.833V0.12H-1.833Z M0,-0.42L0.48,0.52H-0.48Z"]}, "legend": {"title": null, "legendX": 440, "legendY": 182}}}}
  ]}
 ], "spacing": 7,
 "resolve": {"scale": {"color": "independent", "shape": "independent", "x": "independent", "y": "independent"}, "legend": {"color": "independent", "shape": "independent"}}},
{"hconcat": [
 {"width": 594, "height": 353,
  "title": {"text": "T\u200a=\u200a3\u200a1\u200a8\u200a.\u200a1\u200a5\u200aK", "offset": -49, "dx": 1},
  "layer": [
   {"data": {"values": [{}]}, "mark": {"type": "rule", "color": "#d9d9d9", "strokeWidth": 1.3}, "encoding": {"x": {"datum": 0, "type": "quantitative"}, "y": {"datum": 0, "type": "quantitative"}, "y2": {"datum": -0.05}}},
   {"data": {"values": [{}]}, "mark": {"type": "rule", "color": "#d9d9d9", "strokeWidth": 1.3}, "encoding": {"x": {"datum": 0, "type": "quantitative"}, "x2": {"datum": 1.5}, "y": {"datum": 0, "type": "quantitative"}}},
   {"transform": [{"filter": "datum.p == 5 && datum.s == 'PFP'"}], "mark": {"type": "line", "color": "#4F81BD"},
    "encoding": {
     "x": {"field": "x", "type": "quantitative", "scale": {"domain": [-0.61652, 1.76615], "nice": false, "zero": false}, "axis": {"orient": "bottom", "offset": -265, "values": [0, 0.5, 1, 1.5], "labelExpr": "datum.value == 0 ? '0' : datum.value == 1 ? '1' : datum.value == 0.5 ? '0 . 5' : '1 . 5'", "title": "X₁", "titleX": 263, "titleY": 228}},
     "y": {"field": "y", "type": "quantitative", "scale": {"domain": [-0.06625, 0.022], "nice": false, "zero": false}, "axis": {"orient": "left", "offset": -153.7, "values": [0, -0.01, -0.02, -0.03, -0.04, -0.05], "labelExpr": "datum.value == 0 ? '0' : '-0.0' + round(-datum.value * 100)", "title": "ηE X 10³Pa.s", "titleX": -92.7, "titleY": 189}}}},
   {"transform": [{"filter": "datum.p == 5 && datum.s == 'PFP'"}], "mark": {"type": "point", "shape": "diamond", "color": "#4F81BD", "size": 190}, "encoding": {"x": {"field": "x", "type": "quantitative"}, "y": {"field": "y", "type": "quantitative"}}},
   {"transform": [{"filter": "datum.p == 5 && datum.s == 'RS'"}], "mark": {"type": "line", "color": "#C0504D"}, "encoding": {"x": {"field": "x", "type": "quantitative"}, "y": {"field": "y", "type": "quantitative"}}},
   {"transform": [{"filter": "datum.p == 5 && datum.s == 'RS'"}], "mark": {"type": "point", "shape": "square", "color": "#C0504D", "size": 170}, "encoding": {"x": {"field": "x", "type": "quantitative"}, "y": {"field": "y", "type": "quantitative"}}},
   {"transform": [{"filter": "datum.p == 5 && datum.s == 'GLINSKI'"}], "mark": {"type": "line", "color": "#9BBB59"}, "encoding": {"x": {"field": "x", "type": "quantitative"}, "y": {"field": "y", "type": "quantitative"}}},
   {"transform": [{"filter": "datum.p == 5 && datum.s == 'GLINSKI'"}], "mark": {"type": "point", "shape": "triangle-up", "color": "#9BBB59", "size": 230}, "encoding": {"x": {"field": "x", "type": "quantitative"}, "y": {"field": "y", "type": "quantitative"}}},
   {"transform": [{"filter": "datum.p == 5"}], "mark": {"type": "point", "opacity": 0, "size": 900},
    "encoding": {
     "x": {"field": "x", "type": "quantitative"}, "y": {"field": "y", "type": "quantitative"},
     "color": {"field": "s", "type": "nominal", "scale": {"domain": ["PFP", "RS", "GLINSKI"], "range": ["#4F81BD", "#C0504D", "#9BBB59"]}, "legend": {"title": null, "legendX": 444.8, "legendY": 148}},
     "shape": {"field": "s", "type": "nominal", "scale": {"domain": ["PFP", "RS", "GLINSKI"], "range": ["M-1.833,-0.12H1.833V0.12H-1.833Z M0,-0.47L0.47,0L0,0.47L-0.47,0Z", "M-1.833,-0.12H1.833V0.12H-1.833Z M-0.5,-0.5H0.5V0.5H-0.5Z", "M-1.833,-0.12H1.833V0.12H-1.833Z M0,-0.42L0.48,0.52H-0.48Z"]}, "legend": {"title": null, "legendX": 444.8, "legendY": 148}}}}
  ]},
 {"width": 578, "height": 353,
  "title": {"text": "T\u200a=\u200a3\u200a2\u200a3\u200a.\u200a1\u200a5\u200aK", "offset": -43, "dx": 5},
  "layer": [
   {"data": {"values": [{}]}, "mark": {"type": "rule", "color": "#d9d9d9", "strokeWidth": 1.3}, "encoding": {"x": {"datum": 0, "type": "quantitative"}, "y": {"datum": 0, "type": "quantitative"}, "y2": {"datum": -0.04}}},
   {"data": {"values": [{}]}, "mark": {"type": "rule", "color": "#d9d9d9", "strokeWidth": 1.3}, "encoding": {"x": {"datum": 0, "type": "quantitative"}, "x2": {"datum": 1.5}, "y": {"datum": 0, "type": "quantitative"}}},
   {"transform": [{"filter": "datum.p == 6 && datum.s == 'PFP'"}], "mark": {"type": "line", "color": "#4F81BD"},
    "encoding": {
     "x": {"field": "x", "type": "quantitative", "scale": {"domain": [-0.58352, 1.63103], "nice": false, "zero": false}, "axis": {"orient": "bottom", "offset": -271.7, "labelPadding": 20, "values": [0, 0.5, 1, 1.5], "labelExpr": "datum.value == 0 ? '0' : datum.value == 1 ? '1' : datum.value == 0.5 ? '0 . 5' : '1 . 5'", "title": "X₁", "titleFont": "Open Sans", "titleFontSize": 24, "titleX": 290, "titleY": 238.7}},
     "y": {"field": "y", "type": "quantitative", "scale": {"domain": [-0.052584, 0.015735], "nice": false, "zero": false}, "axis": {"orient": "left", "offset": -152.3, "values": [0, -0.01, -0.02, -0.03, -0.04], "labelExpr": "datum.value == 0 ? '0' : '-0.0' + round(-datum.value * 100)", "title": "ηᴱx 10³mP.s", "titleX": -95.6, "titleY": 185}}}},
   {"transform": [{"filter": "datum.p == 6 && datum.s == 'PFP'"}], "mark": {"type": "point", "shape": "diamond", "color": "#4F81BD", "size": 190}, "encoding": {"x": {"field": "x", "type": "quantitative"}, "y": {"field": "y", "type": "quantitative"}}},
   {"transform": [{"filter": "datum.p == 6 && datum.s == 'RS'"}], "mark": {"type": "line", "color": "#C0504D"}, "encoding": {"x": {"field": "x", "type": "quantitative"}, "y": {"field": "y", "type": "quantitative"}}},
   {"transform": [{"filter": "datum.p == 6 && datum.s == 'RS'"}], "mark": {"type": "point", "shape": "square", "color": "#C0504D", "size": 170}, "encoding": {"x": {"field": "x", "type": "quantitative"}, "y": {"field": "y", "type": "quantitative"}}},
   {"transform": [{"filter": "datum.p == 6 && datum.s == 'GLINSKI'"}], "mark": {"type": "line", "color": "#9BBB59"}, "encoding": {"x": {"field": "x", "type": "quantitative"}, "y": {"field": "y", "type": "quantitative"}}},
   {"transform": [{"filter": "datum.p == 6 && datum.s == 'GLINSKI'"}], "mark": {"type": "point", "shape": "triangle-up", "color": "#9BBB59", "size": 230}, "encoding": {"x": {"field": "x", "type": "quantitative"}, "y": {"field": "y", "type": "quantitative"}}},
   {"transform": [{"filter": "datum.p == 6"}], "mark": {"type": "point", "opacity": 0, "size": 900},
    "encoding": {
     "x": {"field": "x", "type": "quantitative"}, "y": {"field": "y", "type": "quantitative"},
     "color": {"field": "s", "type": "nominal", "scale": {"domain": ["PFP", "RS", "GLINSKI"], "range": ["#4F81BD", "#C0504D", "#9BBB59"]}, "legend": {"title": null, "legendX": 442.5, "legendY": 143}},
     "shape": {"field": "s", "type": "nominal", "scale": {"domain": ["PFP", "RS", "GLINSKI"], "range": ["M-1.833,-0.12H1.833V0.12H-1.833Z M0,-0.47L0.47,0L0,0.47L-0.47,0Z", "M-1.833,-0.12H1.833V0.12H-1.833Z M-0.5,-0.5H0.5V0.5H-0.5Z", "M-1.833,-0.12H1.833V0.12H-1.833Z M0,-0.42L0.48,0.52H-0.48Z"]}, "legend": {"title": null, "legendX": 442.5, "legendY": 143}}}}
  ]}
 ], "spacing": 7,
 "resolve": {"scale": {"color": "independent", "shape": "independent", "x": "independent", "y": "independent"}, "legend": {"color": "independent", "shape": "independent"}}}
]
}
